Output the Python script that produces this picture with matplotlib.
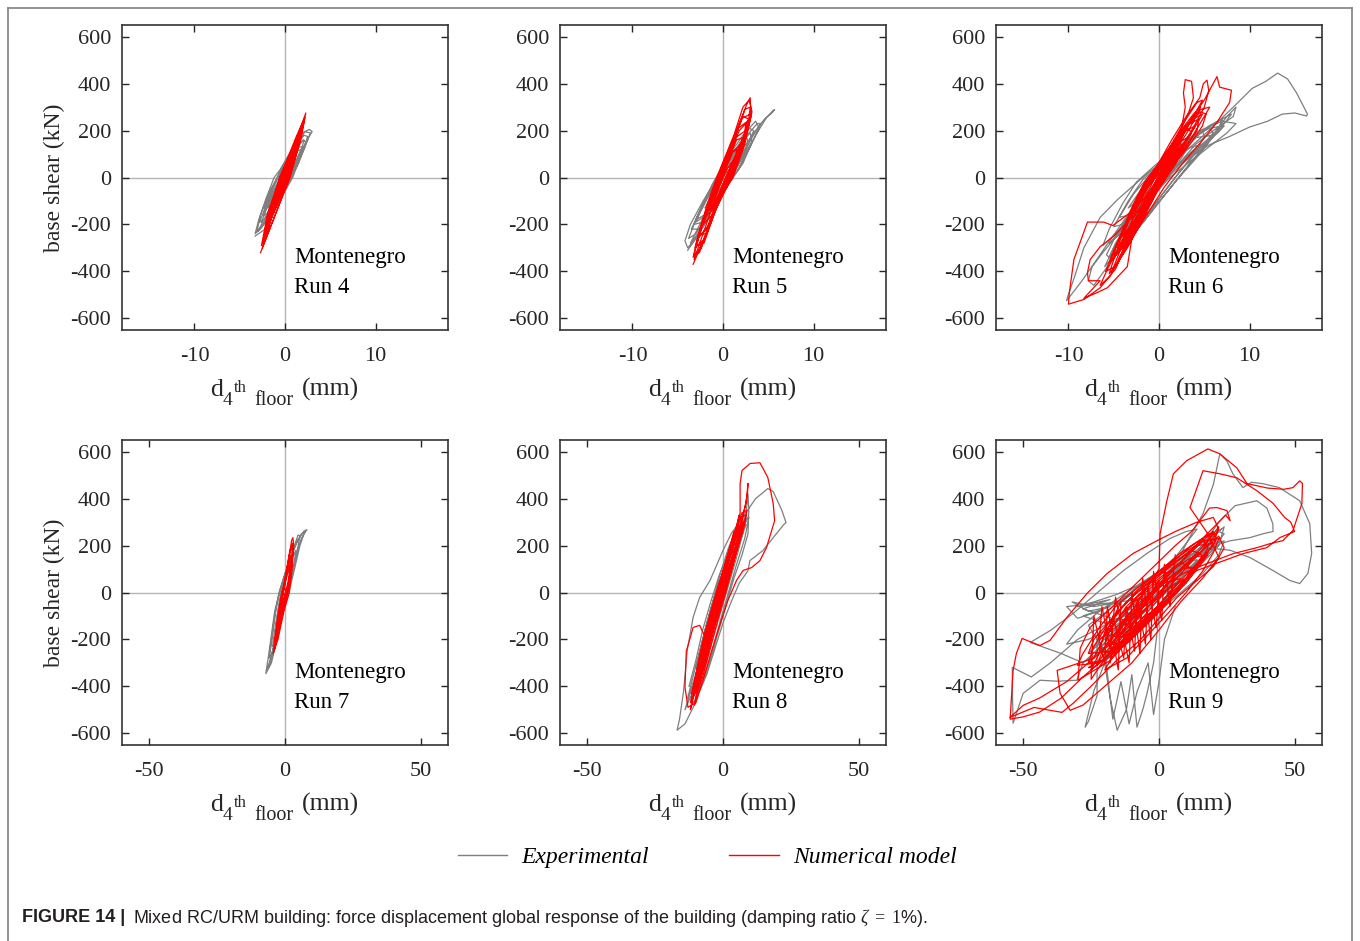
import matplotlib
matplotlib.use("Agg")
import matplotlib.pyplot as plt
from matplotlib.lines import Line2D

plt.rcParams['font.family'] = ['Liberation Serif', 'DejaVu Serif']
plt.rcParams['mathtext.fontset'] = 'custom'
plt.rcParams['mathtext.rm'] = 'Liberation Serif'
plt.rcParams['mathtext.it'] = 'Liberation Serif:italic'
plt.rcParams['axes.unicode_minus'] = False

# ---------------- data: (displacement mm, base shear kN) ----------------
runs = ["Run 4", "Run 5", "Run 6", "Run 7", "Run 8", "Run 9"]

run4_exp = [(-3.3, -250), (-2.2, -220), (-0.9, -120), (0.85, 0), (1.7, 90), (2.6, 170), (3.0, 196), (2.7, 205),
            (1.9, 190), (0.6, 110), (-0.6, 30), (-1.2, 0), (-2.1, -90), (-2.9, -180), (-3.3, -240), (-2.6, -215),
            (-1.3, -140), (0.2, -30), (1.3, 60), (2.2, 140), (2.5, 175), (2.1, 180), (0.8, 110), (-0.9, -10),
            (-2.0, -110), (-2.8, -190), (-2.2, -180), (-0.8, -90), (0.6, 10), (1.7, 100), (2.3, 150), (2.0, 160),
            (0.7, 90), (-0.8, -30), (-2.0, -130), (-2.6, -190), (-2.0, -200), (-0.5, -70), (0.9, 40), (1.9, 130),
            (2.1, 160), (1.3, 140), (0.2, 60), (-1.3, -60), (-2.4, -160), (-1.6, -150), (-0.2, -40), (1.0, 50),
            (1.8, 120), (1.2, 110), (0.0, 30), (-1.2, -70), (-1.9, -130), (-1.0, -100), (0.3, 0), (1.2, 70),
            (0.6, 70), (-0.5, -10), (-1.3, -80), (-0.6, -50), (0.2, 10),
            (-3.0, -230), (-1.6, -160), (0.0, -50), (1.5, 60), (2.4, 150), (2.8, 190), (2.2, 195), (0.9, 120),
            (-0.5, 30), (-1.8, -70), (-2.7, -160), (-3.1, -230), (-2.4, -200), (-0.9, -110), (0.5, -10), (1.6, 80),
            (2.2, 130), (1.4, 130), (0.0, 50), (-1.5, -50), (-2.3, -130), (-1.2, -110), (0.2, -20), (1.3, 60),
            (0.4, 40), (-0.9, -40)]
run4_num = [(-2.7, -320), (0.5, 0), (1.6, 150), (2.3, 275), (1.1, 150), (-0.5, 0), (-1.9, -150), (-2.4, -280),
            (-1.4, -150), (0.5, 0), (1.5, 140), (2.1, 240), (1.0, 140), (-0.6, 0), (-1.8, -160), (-2.2, -250),
            (-1.3, -140), (0.4, 0), (1.3, 120), (1.85, 210), (0.8, 120), (-0.5, 0), (-1.6, -140), (-2.0, -230),
            (-1.2, -130), (0.45, 10), (1.4, 140), (1.7, 190), (0.7, 100), (-0.6, -20), (-1.4, -120), (-1.8, -200),
            (-1.0, -110), (0.3, 0), (1.0, 90), (1.3, 150), (0.5, 70), (-0.5, -30), (-1.0, -90), (-1.4, -160),
            (-0.7, -80), (0.4, 30), (0.8, 80), (1.05, 120), (0.3, 50), (-0.4, -20), (-0.7, -60), (-1.0, -110),
            (-0.4, -50), (0.2, 20), (0.6, 70), (0.2, 30), (-0.2, -10),
            (-2.5, -300), (0.55, 0), (1.8, 170), (2.2, 255), (1.2, 170), (-0.55, 0), (-2.0, -170), (-2.6, -290),
            (-1.6, -180), (0.55, 10), (1.6, 150), (2.0, 225), (0.9, 120), (-0.6, -10), (-1.7, -150), (-2.3, -265),
            (-1.3, -150), (0.5, 20), (1.7, 170), (0.7, 110), (-0.5, -20), (-1.5, -150), (-1.9, -210), (-0.9, -120),
            (0.6, 40), (1.4, 140), (0.2, 20)]

run5_exp = [(-3.9, -310), (-2.6, -240), (-0.9, -110), (0.9, 0), (2.4, 100), (3.6, 180), (4.8, 255), (5.5, 285),
            (5.7, 289), (5.4, 275), (4.6, 250), (3.6, 200), (2.5, 140), (1.2, 90), (-0.6, 0), (-2.2, -100),
            (-3.6, -200), (-4.2, -270), (-3.9, -300), (-2.8, -250), (-1.2, -130), (0.6, -20), (2.0, 80), (3.2, 170),
            (4.2, 230), (3.8, 230), (2.4, 170), (0.8, 80), (-0.8, -20), (-2.4, -130), (-3.5, -220), (-2.5, -220),
            (-0.8, -100), (1.0, 20), (2.6, 130), (3.4, 200), (2.9, 210), (1.4, 120), (-0.2, 20), (-1.8, -90),
            (-3.2, -200), (-2.2, -190), (-0.4, -70), (1.4, 50), (2.8, 150), (2.6, 170), (1.0, 90), (-0.8, -20),
            (-2.4, -140), (-3.0, -180), (-1.6, -150), (0.2, -30), (1.8, 80), (2.2, 120), (0.8, 60), (-0.9, -50),
            (-2.0, -130), (-1.0, -90), (0.6, 10), (1.2, 40), (0.3, 20),
            (-3.6, -280), (-2.0, -200), (-0.3, -60), (1.6, 30), (3.0, 130), (4.0, 210), (3.6, 240), (2.2, 180),
            (0.4, 80), (-1.2, -30), (-2.8, -160), (-3.8, -260), (-3.0, -240), (-1.4, -150), (0.4, -40), (2.2, 60),
            (3.2, 150), (3.0, 190), (1.6, 130), (-0.2, 30), (-1.8, -80), (-3.0, -190), (-2.2, -170), (-0.2, -60),
            (1.8, 40), (2.6, 110), (1.2, 80), (-0.6, -20)]
run5_num = [(-3.3, -370), (-2.2, -270), (-0.6, -100), (1.0, 0), (2.2, 130), (3.1, 260), (3.0, 340), (2.6, 310),
            (1.6, 200), (0.3, 80), (-0.6, 0), (-1.6, -110), (-2.6, -240), (-3.2, -330), (-2.4, -300), (-1.2, -170),
            (0.4, -40), (1.6, 80), (2.7, 200), (3.0, 300), (2.4, 290), (1.2, 170), (-0.2, 40), (-1.4, -90),
            (-2.5, -210), (-3.1, -300), (-2.0, -260), (-0.8, -130), (0.8, 10), (2.0, 130), (2.8, 250), (2.2, 260),
            (0.9, 130), (-0.5, 0), (-1.8, -140), (-2.8, -260), (-1.8, -220), (-0.3, -60), (1.2, 60), (2.4, 190),
            (2.5, 230), (1.8, 200), (0.4, 70), (-1.0, -60), (-2.2, -190), (-2.6, -250), (-1.5, -200), (0.0, -30),
            (1.5, 100), (2.2, 170), (1.5, 160), (0.1, 30), (-1.2, -100), (-2.2, -200), (-1.2, -160), (0.4, 0),
            (1.6, 120), (1.1, 110), (-0.2, -10), (-1.5, -140), (-0.8, -100), (0.6, 30), (1.3, 80), (0.5, 40),
            (-0.4, -40),
            (-3.2, -350), (-1.9, -250), (-0.5, -100), (1.1, 0), (2.4, 140), (3.2, 280), (2.9, 330), (2.2, 300),
            (1.2, 180), (-0.7, 0), (-1.8, -120), (-2.8, -260), (-3.3, -340), (-2.6, -320), (-1.0, -150), (0.7, -20),
            (1.9, 110), (2.8, 220), (3.0, 270), (2.0, 250), (0.6, 100), (-0.9, -40), (-2.2, -180), (-2.9, -290),
            (-2.1, -280), (-0.4, -90), (1.2, 40), (2.4, 170), (2.7, 240), (1.7, 210), (0.0, 40), (-1.6, -130),
            (-2.6, -240), (-1.8, -240), (0.2, -40), (1.6, 100), (2.5, 200), (1.4, 170), (-0.3, 10), (-2.0, -170),
            (-1.2, -140), (0.8, 30), (1.9, 140), (0.8, 100), (-0.9, -70), (-0.2, -20)]

run6_exp = [(0.0, -40), (2.0, 50), (4.0, 140), (6.0, 200), (8.2, 260), (8.5, 300), (7.5, 260), (5.5, 160),
            (3.0, 40), (0.5, -80), (-2.0, -190), (-4.0, -280), (-5.5, -340), (-4.8, -280), (-3.0, -170),
            (-1.0, -60), (1.5, 60), (3.5, 150), (5.5, 220), (7.0, 250), (6.5, 200), (4.5, 100), (2.0, -10),
            (-0.5, -130), (-2.8, -240), (-4.6, -320), (-6.0, -380), (-5.0, -300), (-3.2, -190), (-1.2, -70),
            (1.0, 40), (3.2, 120), (5.5, 200), (8.2, 300), (10.3, 380), (11.8, 410), (13.1, 445), (14.2, 420),
            (15.2, 360), (16.0, 300), (16.4, 270), (16.3, 262), (15.0, 275), (13.6, 270), (12.0, 240), (10.0, 215),
            (7.8, 175), (5.6, 140), (3.5, 90), (1.5, 20), (-0.5, -60), (-2.5, -150), (-4.5, -240), (-6.2, -320),
            (-7.6, -390), (-8.5, -440), (-9.5, -490), (-10.2, -525), (-10.1, -510), (-9.3, -420), (-8.3, -300),
            (-6.5, -170), (-4.6, -95), (-2.4, -20), (0.1, 60), (2.2, 130), (4.0, 180), (5.5, 210), (6.0, 190),
            (4.2, 110), (2.0, 10), (-0.2, -100), (-2.5, -210), (-4.3, -300), (-5.7, -380), (-7.2, -460),
            (-7.8, -440), (-7.4, -380), (-6.0, -300), (-4.0, -190), (-2.0, -80), (0.0, 20), (2.2, 110), (4.5, 190),
            (6.5, 240), (8.0, 270), (7.0, 220), (5.0, 130), (2.8, 30), (0.5, -80), (-1.5, -180), (-3.5, -270),
            (-5.2, -350), (-5.8, -330), (-4.8, -250), (-3.0, -140), (-1.0, -30), (1.2, 70), (3.0, 140), (4.8, 200),
            (5.0, 170), (3.6, 90), (1.4, -20), (-0.8, -130), (-2.6, -220), (-4.2, -280), (-3.6, -220), (-2.0, -110),
            (0.0, 0), (1.8, 90), (3.4, 150), (2.6, 90), (0.8, -10), (-1.0, -100),
            (-5.5, -280), (-3.0, -200), (-1.0, -90), (1.2, 0), (3.5, 70), (5.5, 130), (7.5, 190), (8.5, 230),
            (7.0, 240), (4.5, 200), (2.0, 130), (-0.5, 50), (-2.5, -20), (-4.0, -110), (-5.5, -220), (-6.2, -290),
            (-4.8, -240), (-2.6, -150), (-0.4, -40), (1.8, 40), (4.0, 110), (6.5, 190), (7.2, 220), (5.5, 210),
            (3.0, 150), (0.6, 70), (-1.8, -10), (-3.4, -100), (-5.0, -210), (-4.0, -200), (-1.8, -100), (0.4, 0),
            (2.8, 80), (5.0, 150), (6.0, 180), (4.0, 170), (1.6, 100), (-0.8, 20), (-2.8, -70), (-4.4, -170),
            (-3.2, -160), (-1.0, -60), (1.4, 30), (3.6, 110), (4.6, 140), (2.8, 120), (0.6, 50), (-1.6, -30),
            (-3.4, -130), (-2.0, -90), (0.0, -10), (2.0, 60), (1.0, 40), (-0.6, 0)]
run6_num = [(0.0, 50), (1.5, 150), (3.0, 250), (4.2, 320), (4.8, 330), (3.8, 260), (2.2, 150), (0.5, 40),
            (-1.0, -60), (-2.5, -170), (-4.0, -270), (-5.0, -350), (-5.5, -410), (-4.6, -370), (-3.2, -260),
            (-1.8, -150), (-0.4, -30), (1.0, 80), (2.4, 190), (2.9, 300), (2.7, 360), (2.9, 417), (3.6, 410),
            (3.8, 340), (3.3, 280), (2.0, 170), (0.6, 60), (-0.9, -60), (-2.4, -180), (-3.8, -300), (-4.8, -390),
            (-6.5, -470), (-8.3, -520), (-10.0, -540), (-9.9, -490), (-9.4, -350), (-7.9, -190), (-6.1, -190),
            (-5.1, -205), (-3.2, -150), (-1.8, -60), (-0.2, 50), (1.4, 160), (3.0, 260), (4.5, 340), (4.9, 400),
            (5.3, 415), (5.5, 370), (5.0, 300), (3.6, 200), (1.8, 90), (0.2, -20), (-1.4, -130), (-2.8, -230),
            (-4.2, -330), (-5.4, -420), (-6.5, -460), (-5.8, -400), (-4.5, -300), (-3.0, -190), (-1.5, -80),
            (0.0, 30), (1.6, 140), (3.4, 240), (5.0, 330), (6.4, 430), (6.7, 385), (8.0, 372), (7.8, 320),
            (6.4, 235), (4.6, 150), (2.6, 60), (0.6, -40), (-1.2, -150), (-3.0, -260), (-3.5, -380), (-5.7, -470),
            (-6.8, -490), (-8.3, -515), (-6.5, -440), (-7.8, -440), (-7.9, -405), (-7.6, -350), (-6.5, -295),
            (-5.0, -250), (-3.5, -190), (-2.0, -100), (-0.6, 0), (0.9, 100), (2.4, 200), (3.8, 270), (4.6, 300),
            (3.4, 210), (1.6, 100), (0.0, 0), (-1.6, -110), (-3.2, -220), (-4.4, -310), (-3.4, -250), (-2.0, -150),
            (-0.6, -50), (0.8, 60), (2.2, 170), (3.2, 230), (2.0, 120), (0.4, 10), (-1.2, -100), (-2.6, -200),
            (-4.5, -350), (-2.5, -220), (-0.8, -100), (0.6, 0), (2.0, 80), (3.6, 170), (5.0, 260), (5.6, 300),
            (4.6, 290), (2.6, 200), (1.0, 110), (-0.8, 20), (-2.0, -60), (-3.4, -180), (-4.8, -300), (-5.4, -360),
            (-4.0, -300), (-2.2, -180), (-0.6, -60), (0.8, 20), (2.6, 130), (4.2, 230), (4.8, 270), (3.8, 250),
            (1.8, 150), (0.0, 50), (-1.6, -40), (-3.0, -150), (-4.2, -260), (-4.6, -300), (-3.4, -240),
            (-1.8, -120), (0.0, -20), (1.4, 60), (3.0, 160), (4.0, 220), (3.0, 200), (1.2, 110), (-0.6, 10),
            (-2.2, -90), (-3.6, -200), (-4.0, -250), (-2.8, -190), (-1.2, -80), (0.4, 10), (2.0, 100), (3.2, 170),
            (2.2, 150), (0.4, 60), (-1.2, -30), (-2.6, -130), (-3.2, -180), (-2.0, -130), (-0.4, -20), (1.0, 60),
            (2.4, 130), (1.4, 110), (-0.2, 30), (-1.6, -60), (-2.4, -120), (-1.0, -60), (0.6, 30), (1.6, 80),
            (0.6, 60), (-0.8, -10), (-1.6, -50),
            (-5.2, -400), (-3.5, -300), (-1.8, -180), (-0.2, -60), (1.0, 10), (2.2, 80), (3.6, 150), (4.8, 220),
            (5.2, 270), (4.6, 280), (3.2, 230), (1.6, 150), (0.0, 60), (-1.6, -20), (-2.8, -110), (-4.0, -220),
            (-5.2, -330), (-5.9, -400), (-4.8, -380), (-3.0, -260), (-1.4, -140), (0.2, -30), (1.6, 50), (3.0, 130),
            (4.2, 200), (4.4, 250), (3.0, 220), (1.2, 130), (-0.4, 40), (-1.8, -40), (-3.2, -160), (-4.6, -280),
            (-5.0, -330), (-3.8, -290), (-2.2, -170), (-0.6, -50), (1.0, 30), (2.4, 110), (3.6, 190), (3.2, 210),
            (1.8, 160), (0.2, 70), (-1.2, -10), (-2.6, -120), (-3.8, -230), (-2.6, -200), (-1.0, -90), (0.4, 0),
            (1.8, 90), (2.6, 140), (1.6, 130), (0.0, 50), (-1.4, -40), (-2.4, -110), (-1.2, -80), (0.2, 10),
            (1.2, 50), (0.0, 20), (-1.0, -30)]

run7_exp = [(-7.0, -345), (-5.0, -300), (-3.0, -200), (-1.0, -80), (1.4, 0), (3.5, 100), (5.5, 200), (7.0, 250),
            (8.1, 268), (7.0, 262), (4.5, 220), (2.0, 140), (-0.5, 50), (-2.5, -20), (-3.8, -80), (-5.0, -180),
            (-6.2, -280), (-7.0, -340), (-5.5, -290), (-3.5, -210), (-1.5, -100), (0.8, -10), (2.8, 80), (4.5, 180),
            (5.5, 240), (4.8, 245), (2.6, 170), (0.0, 80), (-2.2, 0), (-3.6, -90), (-4.8, -200), (-5.8, -280),
            (-4.5, -250), (-2.5, -150), (-0.4, -50), (1.8, 40), (3.4, 130), (4.0, 180), (2.4, 140), (0.0, 60),
            (-2.0, -30), (-3.4, -130), (-4.6, -230), (-3.5, -200), (-1.4, -90), (0.6, 0), (2.4, 90), (2.8, 120),
            (1.0, 80), (-1.2, 0), (-2.8, -110), (-3.0, -150), (-1.0, -60), (0.6, 20),
            (-6.0, -320), (-4.0, -250), (-2.0, -140), (0.2, -40), (2.2, 50), (4.0, 150), (6.0, 230), (7.5, 260),
            (6.0, 250), (3.4, 190), (0.8, 110), (-1.6, 20), (-3.2, -60), (-4.4, -150), (-5.6, -250)]
run7_num = [(-4.4, -260), (-2.6, -200), (-0.4, -80), (1.6, 0), (2.6, 100), (3.2, 200), (2.9, 234), (2.4, 220),
            (1.4, 140), (0.0, 40), (-1.2, 0), (-2.4, -80), (-3.8, -200), (-4.2, -250), (-3.2, -210), (-1.4, -110),
            (0.6, -10), (2.0, 60), (2.8, 160), (2.6, 200), (1.6, 160), (0.4, 80), (-1.2, -20), (-2.8, -130),
            (-3.8, -210), (-2.8, -180), (-0.8, -60), (1.0, 20), (2.2, 110), (2.2, 160), (1.0, 110), (-0.4, 20),
            (-2.0, -80), (-3.2, -170), (-2.2, -140), (-0.2, -20), (1.4, 60), (1.8, 120), (0.6, 70), (-0.8, -10),
            (-2.2, -100), (-1.2, -60), (0.6, 20),
            (-3.8, -240), (-1.8, -140), (0.4, -30), (1.8, 40), (2.7, 150), (2.8, 210), (1.8, 180), (0.6, 100),
            (-1.0, 0), (-2.6, -110), (-3.6, -200), (-2.4, -160), (-0.6, -50), (1.2, 30), (2.4, 130), (1.4, 130),
            (0.0, 40), (-1.6, -60), (-2.8, -150)]

run8_exp = [(0.0, 20), (3.0, 130), (6.0, 240), (8.5, 340), (9.2, 420), (9.5, 350), (9.2, 250), (7.0, 160),
            (4.0, 60), (1.0, -60), (-2.0, -180), (-5.0, -300), (-8.0, -400), (-11.0, -490), (-14.0, -560),
            (-16.9, -587), (-16.0, -540), (-14.5, -420), (-13.2, -250), (-11.0, -106), (-8.6, -21), (-4.8, 51),
            (0.0, 179), (3.0, 250), (6.0, 300), (9.0, 350), (12.0, 400), (16.5, 443), (18.5, 430), (21.7, 349),
            (23.2, 298), (22.4, 290), (18.5, 234), (14.7, 179), (9.9, 136), (9.2, 93), (6.0, 40), (3.0, -40),
            (0.0, -130), (-3.0, -240), (-6.0, -350), (-9.0, -430), (-11.5, -480), (-10.5, -400), (-8.5, -280),
            (-6.0, -150), (-3.5, -30), (-1.0, 80), (2.0, 190), (5.0, 270), (8.0, 300), (9.5, 320), (8.0, 230),
            (5.0, 120), (2.0, 0), (-1.0, -120), (-4.0, -250), (-7.0, -370), (-9.0, -420), (-7.5, -300),
            (-5.0, -170), (-2.5, -50), (0.5, 80), (3.5, 190), (6.5, 280), (7.5, 260), (5.0, 150), (2.0, 30),
            (-1.0, -90), (-4.0, -210), (-6.0, -290), (-4.0, -160), (-1.5, -40), (1.0, 60),
            (-12.0, -430), (-9.0, -350), (-6.0, -230), (-3.0, -110), (0.5, 20), (3.5, 130), (6.5, 240), (9.0, 320),
            (7.5, 300), (4.0, 200), (0.5, 100), (-3.0, -10), (-6.0, -130), (-9.0, -270), (-11.5, -380),
            (-13.0, -450), (-10.0, -380), (-7.0, -260), (-4.0, -140), (-0.5, -10), (3.0, 100), (6.0, 210),
            (8.5, 290), (6.0, 260), (2.5, 160), (-1.0, 50), (-4.5, -70), (-7.5, -200), (-10.0, -320), (-8.0, -300),
            (-5.0, -170), (-1.5, -40), (2.0, 80), (5.0, 190), (3.0, 170), (-0.5, 70), (-4.0, -50), (-7.0, -180),
            (-5.0, -130), (-1.0, 0),
            (-14.0, -500), (-11.0, -420), (-8.0, -300), (-5.0, -170), (-2.0, -40), (1.0, 70), (4.0, 180),
            (7.0, 270), (5.5, 260), (2.0, 170), (-1.5, 70), (-4.5, -40), (-7.5, -160), (-10.0, -290),
            (-12.5, -400)]
run8_num = [(0.0, 50), (3.0, 160), (6.0, 280), (8.5, 380), (9.2, 465), (9.0, 420), (7.0, 300), (4.0, 170),
            (1.0, 40), (-2.0, -80), (-5.0, -200), (-8.0, -330), (-11.0, -450), (-12.0, -500), (-11.0, -440),
            (-8.0, -300), (-5.0, -160), (-2.0, -30), (1.0, 100), (4.0, 220), (6.3, 340), (6.3, 464), (7.0, 520),
            (10.0, 550), (13.6, 553), (16.5, 490), (18.5, 378), (19.0, 306), (16.0, 191), (13.6, 136), (10.5, 106),
            (7.4, 94), (5.0, 52), (1.8, -34), (-1.5, -150), (-4.5, -260), (-7.5, -380), (-10.0, -470),
            (-12.9, -489), (-14.0, -404), (-13.5, -250), (-11.0, -149), (-8.6, -140), (-7.0, -180), (-5.0, -120),
            (-2.5, -10), (0.5, 110), (3.0, 210), (5.5, 290), (6.5, 250), (4.0, 130), (1.0, 0), (-2.0, -120),
            (-5.0, -250), (-7.5, -360), (-9.5, -430), (-10.5, -480), (-9.0, -380), (-6.5, -250), (-4.0, -120),
            (-1.5, 0), (1.5, 130), (4.5, 250), (6.0, 330), (4.0, 240), (1.0, 100), (-1.5, -20), (-4.0, -150),
            (-6.5, -280), (-9.0, -400), (-8.0, -320), (-5.5, -190), (-3.0, -60), (-0.5, 60), (2.0, 170),
            (4.0, 260), (2.5, 160), (0.0, 30), (-2.5, -90), (-5.0, -220), (-7.0, -320), (-5.0, -200), (-2.5, -70),
            (-11.0, -420), (-8.0, -330), (-5.0, -200), (-2.0, -80), (1.5, 40), (4.5, 160), (7.0, 270), (8.5, 330),
            (6.5, 320), (3.5, 220), (0.5, 100), (-2.5, -20), (-5.5, -140), (-8.5, -270), (-10.5, -380),
            (-11.5, -430), (-9.5, -370), (-6.5, -250), (-3.5, -120), (-0.5, 0), (2.5, 110), (5.5, 220), (7.5, 300),
            (5.5, 270), (2.5, 160), (-0.5, 50), (-3.5, -60), (-6.5, -190), (-9.5, -330), (-8.0, -320), (-5.0, -190),
            (-2.0, -60), (1.0, 60), (4.0, 170), (6.0, 250), (4.0, 220), (1.0, 110), (-2.0, -10), (-5.0, -130),
            (-8.0, -270), (-6.5, -240), (-3.5, -110), (-0.5, 10), (2.5, 120), (4.5, 190), (2.5, 160), (-0.5, 50),
            (-3.5, -70), (-6.0, -180), (-3.5, -90), (0.0, 40), (2.0, 90),
            (-10.0, -420), (-6.5, -300), (-3.5, -150), (-0.5, -40), (2.5, 80), (5.5, 190), (8.0, 290), (8.8, 350),
            (7.0, 340), (4.0, 250), (1.0, 130), (-2.0, 20), (-4.5, -80), (-7.5, -210), (-10.0, -350),
            (-12.0, -470), (-9.0, -400), (-6.0, -270), (-3.0, -140), (0.0, -20), (3.0, 90), (5.5, 200), (7.0, 260),
            (5.0, 250), (2.0, 150), (-1.0, 40), (-3.5, -60), (-6.5, -180), (-9.0, -320), (-10.5, -400),
            (-8.5, -360), (-5.0, -220), (-2.0, -90), (1.0, 30), (3.5, 140), (5.0, 210), (3.0, 190), (0.0, 80),
            (-3.0, -30), (-5.5, -150), (-8.0, -280), (-6.0, -230), (-3.0, -100), (0.0, 10), (2.5, 100), (1.0, 90),
            (-1.5, -10)]

run9_exp = [(0, 20), (8, 120), (16, 200), (22, 260), (24, 250), (18, 160), (10, 60), (2, -40), (-8, -150),
            (-16, -250), (-22, -320), (-14, -150), (-4, -20), (6, 120), (12, 250), (16.2, 336), (20, 460),
            (22.4, 591), (25, 560), (27.2, 506), (30.9, 447), (34, 470), (38.2, 464), (44.3, 447), (51.8, 391),
            (55.5, 293), (56.2, 166), (54.8, 81), (51.8, 38), (48.2, 51), (41.9, 94), (33.5, 149), (26.2, 180),
            (18, 190), (10, 120), (2, 20), (-6, -80), (-14, -180), (-20, -300), (-24, -420), (-27.2, -574),
            (-26, -550), (-22.8, -440), (-22.8, -190), (-20, -300), (-18, -450), (-15.4, -587), (-12, -500),
            (-10, -350), (-8.1, -574), (-6, -500), (-4.4, -430), (-2, -300), (0, -100), (4, 20), (10, 120),
            (16, 200), (22, 300), (28, 370), (36, 391), (39.7, 360), (41.9, 293), (42, 260), (38.2, 250),
            (33.5, 234), (26, 220), (18, 190), (8, 110), (-2, 0), (-10, -80), (-20, -140), (-30, -200),
            (-40, -300), (-47, -360), (-54, -319), (-54, -404), (-53.7, -557), (-50, -430), (-43.8, -374),
            (-37.5, -378), (-30.2, -374), (-28, -300), (-36, -260), (-47.4, -213), (-40, -162), (-31.6, -89),
            (-21.7, 9), (-13, 94), (-4, 170), (4, 230), (10, 260), (14, 270), (6, 150), (-4, 40), (-14, -40),
            (-24, -60), (-32, -40), (-26, -80), (-18, -60), (-28, -100), (-20, -130), (-10, -90), (0, 0), (8, 80),
            (16, 150), (20, 230), (14, 180), (6, 100), (-2, 20), (-12, -80), (-20, -180), (-26, -260), (-20, -200),
            (-10, -100), (-2, -20), (8, 70), (14, 130), (22, 200), (24, 280), (18, 220), (8, 120), (0, 30),
            (-8, -60), (-16, -160), (-10, -120), (0, -20),
            (-30, -60), (-24, -40), (-16, -10), (-8, 30), (0, 90), (8, 150), (14, 200), (20, 240), (23, 270),
            (18, 230), (10, 160), (2, 100), (-6, 40), (-14, -30), (-22, -80), (-30, -110), (-34, -60), (-26, -50),
            (-18, -30), (-28, -70), (-20, -100), (-12, -130), (-4, -100), (4, -20), (12, 80), (18, 150), (22, 200),
            (16, 170), (6, 90), (-2, 10), (-10, -80), (-18, -180), (-22, -250), (-16, -200), (-8, -110), (0, -30),
            (8, 60), (14, 140), (10, 130), (0, 40), (-8, -40), (-16, -130), (-20, -200), (-12, -160), (-4, -60),
            (4, 30), (-2, -20),
            (-28, -300), (-20, -240), (-10, -160), (0, -80), (8, 0), (16, 80), (22, 160), (24, 220), (18, 200),
            (8, 140), (-2, 70), (-12, 0), (-22, -80), (-30, -160), (-34, -220), (-26, -200), (-16, -140), (-6, -60),
            (4, 20), (12, 100), (18, 170), (12, 160), (2, 90), (-8, 20), (-18, -70), (-26, -140), (-20, -250),
            (-17, -540), (-14, -380), (-11, -560), (-8, -420), (-4, -300), (-2, -520), (0, -380), (2, -200),
            (6, -60)]
run9_num = [(0, 0), (8, 100), (15, 180), (20, 250), (22, 280), (20, 200), (12, 100), (4, 0), (-5, -120),
            (-14, -220), (-22, -300), (-25, -330), (-22, -260), (-14, -150), (-6, -40), (2, 60), (10, 150),
            (17, 230), (20, 260), (16, 180), (8, 80), (-1, -40), (-10, -160), (-18, -260), (-23, -310),
            (-20, -230), (-10, -80), (0, 100), (0.4, 251), (2.9, 391), (5.3, 506), (10.2, 562), (18, 612),
            (22.4, 591), (28.6, 532), (32.4, 464), (40, 445), (46, 440), (49.3, 447), (51.8, 476), (52.8, 465),
            (52.6, 379), (49.3, 264), (45.6, 221), (40.8, 208), (36, 191), (27.4, 166), (17.6, 123), (8.8, 81),
            (2.9, 38), (-4, -60), (-12, -170), (-20, -280), (-28, -360), (-36, -450), (-44, -510), (-50, -530),
            (-54.8, -540), (-53.7, -332), (-52.5, -260), (-50.4, -196), (-47.3, -210), (-43.8, -226),
            (-40.1, -204), (-33.9, -106), (-26.5, -4), (-19.1, 81), (-9.6, 166), (-0.7, 221), (6, 260), (14, 300),
            (20, 320), (22, 270), (18, 200), (10, 120), (0, 20), (-8, -90), (-16, -200), (-24, -280), (-34, -380),
            (-44, -450), (-50, -481), (-54.8, -532), (-46, -490), (-35.7, -511), (-31.6, -472), (-25.4, -404),
            (-15.6, -289), (-7, -204), (-0.7, -119), (6.6, -21), (14, 51), (20, 110), (24, 190), (22, 240),
            (16, 180), (6, 70), (-4, -60), (-14, -180), (-25, -370), (-24, -100), (-20, -300), (-19, -60),
            (-15, -330), (-14, -40), (-24, -280), (-37.5, -332), (-36.4, -430), (-32.7, -502), (-28, -480),
            (-20, -400), (-10, -300), (0, -160), (8, -40), (16, 60), (22, 150), (18, 250), (11.4, 362),
            (16.2, 519), (22.4, 506), (28.6, 489), (36, 434), (42, 380), (46.3, 319), (48.5, 300), (49.9, 260),
            (44.5, 234), (39.6, 191), (31, 166), (14, 94), (6, 30), (-2, -80), (-10, -190), (-18, -290),
            (-29.8, -374), (-29, -238), (-25.4, -149), (-18, -70), (-10, 20), (-2, 110), (6, 200), (12, 260),
            (18.6, 360), (21.3, 362), (25, 349), (26.2, 306), (24.5, 330), (22, 300), (16, 230), (8, 130), (0, 30),
            (-8, -80), (-16, -200), (-22, -290), (-26, -320),
            (-24, -320), (-18, -260), (-12, -200), (-4, -110), (4, -20), (10, 60), (16, 140), (21, 220), (20, 260),
            (12, 200), (4, 120), (-4, 40), (-12, -40), (-18, -120), (-24, -230), (-26, -300), (-20, -290),
            (-14, -230), (-6, -140), (2, -50), (8, 30), (14, 110), (18, 190), (16, 230), (8, 170), (0, 90),
            (-8, 10), (-14, -70), (-20, -170), (-22, -250), (-16, -260), (-8, -170), (0, -80), (6, 0), (12, 80),
            (16, 160), (12, 180), (4, 110), (-4, 30), (-12, -60), (-18, -160), (-20, -220), (-12, -220),
            (-4, -130), (2, -60), (8, 20), (12, 100), (8, 130), (0, 60), (-8, -20), (-14, -110), (-10, -160),
            (-2, -80), (4, 0), (8, 60), (2, 40), (-6, -40), (-12, -120), (-16, -190), (-18, -300), (-17, -100),
            (-13, -280), (-12, -60), (-9, -250), (-8, -30), (-5, -220), (-4, 20), (-1, -150), (0, 50),
            (-20, -330), (-12, -280), (-4, -180), (4, -80), (10, 0), (16, 90), (20, 170), (22, 230), (16, 220),
            (8, 160), (0, 90), (-8, 20), (-16, -60), (-22, -150), (-28, -260), (-30, -310), (-22, -300),
            (-14, -220), (-6, -120), (2, -30), (10, 60), (16, 140), (20, 210), (14, 200), (6, 130), (-2, 60),
            (-10, -20), (-18, -120), (-24, -200), (-26, -260), (-18, -250), (-10, -170), (-2, -90), (6, -10),
            (12, 70), (18, 160), (12, 150), (4, 90), (-4, 10), (-12, -70), (-20, -180), (-14, -190), (-6, -110),
            (2, -40), (10, 40), (14, 110), (8, 100), (0, 30), (-8, -50), (-14, -130), (-8, -100), (0, -20), (6, 40),
            (-22, -200), (-21, -60), (-18, -240), (-16, -20), (-11, -300), (-10, 0), (-7, -260), (-6, 60),
            (-3, -200), (-2, 90), (1, -120), (2, 120), (4, -60), (6, 160)]

exp_data = [run4_exp, run5_exp, run6_exp, run7_exp, run8_exp, run9_exp]
num_data = [run4_num, run5_num, run6_num, run7_num, run8_num, run9_num]

xlims = [18, 18, 18, 60, 60, 60]
xticks_top = [-10, 0, 10]
xticks_bot = [-50, 0, 50]
yticks = [-600, -400, -200, 0, 200, 400, 600]

grey = "#7f7f7f"
red = "#ff0000"
txt = "#262626"

# ---------------- figure ----------------
W, H = 1360.0, 941.0
fig = plt.figure(figsize=(W / 100, H / 100), dpi=100)

lefts = [122, 560, 996]
bottoms = [330, 745]


def ftext(px, py, s, **kw):
    # place text in pixel coordinates (from top-left)
    fig.text(px / W, 1 - py / H, s, **kw)


for i in range(6):
    r, c = divmod(i, 3)
    ax = fig.add_axes([lefts[c] / W, 1 - bottoms[r] / H, 326 / W, 305 / H])
    ax.axhline(0, color="#b5b5b5", lw=1.0, zorder=1)
    ax.axvline(0, color="#b5b5b5", lw=1.0, zorder=1)
    ex, ey = zip(*exp_data[i])
    nx, ny = zip(*num_data[i])
    ax.plot(ex, ey, color=grey, lw=0.9, zorder=2)
    ax.plot(nx, ny, color=red, lw=0.9, zorder=3)
    ax.set_xlim(-xlims[i], xlims[i])
    ax.set_ylim(-650, 650)
    ax.set_xticks(xticks_top if r == 0 else xticks_bot)
    ax.set_yticks(yticks)
    ax.tick_params(direction="in", top=True, right=True, length=5, width=1,
                   labelsize=16, colors=txt)
    ax.tick_params(axis="x", pad=12)
    ax.tick_params(axis="y", pad=8)
    for s in ax.spines.values():
        s.set_color("#333333")
        s.set_linewidth(1.2)
    if c == 0:
        ax.set_ylabel("base shear (kN)", fontsize=17, color=txt, labelpad=4)
    ax.text(0.527, 0.22, "Montenegro", transform=ax.transAxes, fontsize=16.5, color="black", va="baseline")
    ax.text(0.527, 0.12, runs[i], transform=ax.transAxes, fontsize=16.5, color="black", va="baseline")

    # x label: d with stacked sub/superscripts
    cx = lefts[c] + 163
    by = bottoms[r]
    ftext(cx - 75, by + 66, "d", fontsize=18.5, color=txt, va="baseline")
    ftext(cx - 62, by + 75, "4", fontsize=14, color=txt, va="baseline")
    ftext(cx - 51, by + 62, "th", fontsize=12, color=txt, va="baseline")
    ftext(cx - 31, by + 75, "floor", fontsize=14.5, color=txt, va="baseline")
    ftext(cx + 17, by + 66, "(mm)", fontsize=18.5, color=txt, va="baseline")

# legend
handles = [Line2D([], [], color=grey, lw=1.0), Line2D([], [], color=red, lw=1.0)]
fig.legend(handles, ["Experimental", "Numerical model"], loc="center", bbox_to_anchor=(0.52, 1 - 857 / H),
           ncol=2, frameon=False, handlelength=2.1, handletextpad=0.6, columnspacing=3.4,
           prop={"family": "Liberation Serif", "style": "italic", "size": 17})

# outer frame
fig.add_artist(Line2D([8 / W, 1352 / W], [1 - 8 / H, 1 - 8 / H], color="#808080", lw=1.2))
fig.add_artist(Line2D([8 / W, 8 / W], [0, 1 - 8 / H], color="#808080", lw=1.2))
fig.add_artist(Line2D([1352 / W, 1352 / W], [0, 1 - 8 / H], color="#808080", lw=1.2))

# caption
ftext(22, 918, "FIGURE 14 |", fontsize=13, fontweight="bold", family="Liberation Sans",
      color="#231f20", va="center")
ftext(133, 918,
      r"Mixed RC/URM building: force displacement global response of the building (damping ratio $\zeta\ =\ 1$%).",
      fontsize=13, family="Liberation Sans", color="#231f20", va="center")

fig.savefig("out.png", dpi=100)
